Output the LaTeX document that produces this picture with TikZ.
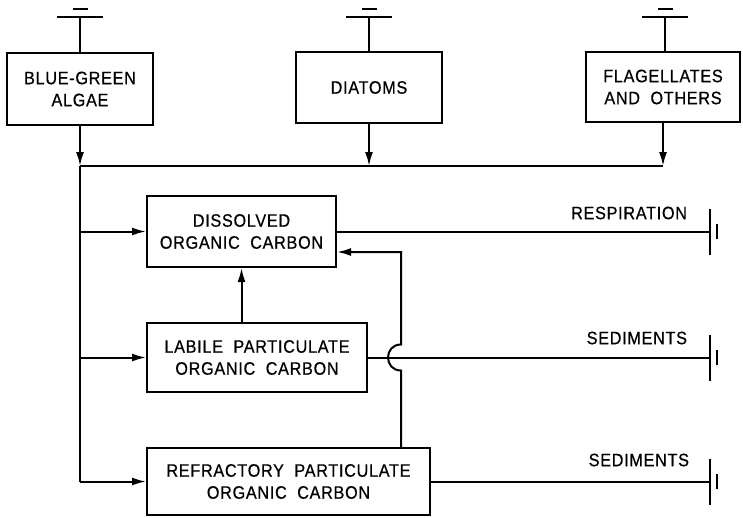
\documentclass[tikz,border=0pt]{standalone}
\usepackage{fontspec}
\setmainfont[LetterSpace=4,WordSpace=2,FakeStretch=0.9,FakeBold=0.6]{Liberation Sans}
\usetikzlibrary{arrows.meta}
\begin{document}
\begin{tikzpicture}[x=1pt,y=-1pt,line width=2pt,
  txt/.style={font=\fontsize{18}{22}\selectfont, align=center, inner sep=0pt},
  box/.style={txt, draw},
  arr/.style={-{Latex[length=14pt,width=8pt]}}]
\useasboundingbox (0,0) rectangle (743,517);
% boxes
\node[box, minimum width=146pt, minimum height=72pt] (bg)  at (80,89)    {BLUE-GREEN\\ALGAE};
\node[box, minimum width=146pt, minimum height=71pt] (dia) at (369,87.5) {DIATOMS};
\node[box, minimum width=154pt, minimum height=70pt] (fla) at (663,87)   {FLAGELLATES\\AND OTHERS};
\node[box, minimum width=189pt, minimum height=71pt] (dis) at (241.5,231.5) {DISSOLVED\\ORGANIC CARBON};
\node[box, minimum width=220pt, minimum height=69pt] (lab) at (257,357.5) {LABILE PARTICULATE\\ORGANIC CARBON};
\node[box, minimum width=283pt, minimum height=67pt] (ref) at (288.5,481.5) {REFRACTORY PARTICULATE\\ORGANIC CARBON};
% labels
\node[txt, anchor=east] (resp) at (688,213) {RESPIRATION};
\node[txt, anchor=east] (sed1) at (688,338) {SEDIMENTS};
\node[txt, anchor=east] (sed2) at (690,460) {SEDIMENTS};
% source symbols
\foreach \b/\x in {bg/80, dia/369, fla/665}{
  \coordinate (s\b) at (\x,17);
  \draw (\b.north -| s\b) -- (s\b);
  \draw ([xshift=-23pt]s\b) -- ([xshift=23pt]s\b);
  \draw ([shift={(-7.5,-8)}]s\b) -- ([shift={(7.5,-8)}]s\b);
}
% collector
\coordinate (j1) at (80,166);
\coordinate (j2) at (369,166);
\coordinate (j4) at (663,166);
\coordinate (jb) at (80,481.5);
\draw[arr] (bg.south) -- (j1);
\draw[arr] (dia.south) -- (j2);
\draw[arr] (fla.south) -- (j4);
\draw (j1) -- (j4);
\draw (j1) -- (jb);
\draw[arr] (j1 |- dis.west) -- (dis.west);
\draw[arr] (j1 |- lab.west) -- (lab.west);
\draw[arr] (jb) -- (ref.west);
% labile -> dissolved
\draw[arr] (dis.south |- lab.north) -- (dis.south);
% refractory -> dissolved with jump
\coordinate (fbx) at (401,0);
\coordinate (fbtop) at (401,252);
\coordinate (arcb) at (401,370.5);
\coordinate (arct) at (401,344.5);
\draw[arr] (fbx |- ref.north) -- (arcb)
  .. controls +(-17.3,0) and ([xshift=-17.3pt]arct) .. (arct)
  -- (fbtop) -- (dis.east |- fbtop);
% outflows
\coordinate (t1) at (710,231.5);
\coordinate (t2) at (710,357.5);
\coordinate (t3) at (710,481.5);
\draw (dis.east) -- (t1);
\draw (lab.east) -- (t2);
\draw (ref.east) -- (t3);
\foreach \t in {t1,t2,t3}{
  \draw ([yshift=23pt]\t) -- ([yshift=-23pt]\t);
  \draw ([shift={(7,7.5)}]\t) -- ([shift={(7,-7.5)}]\t);
}
\end{tikzpicture}
\end{document}
